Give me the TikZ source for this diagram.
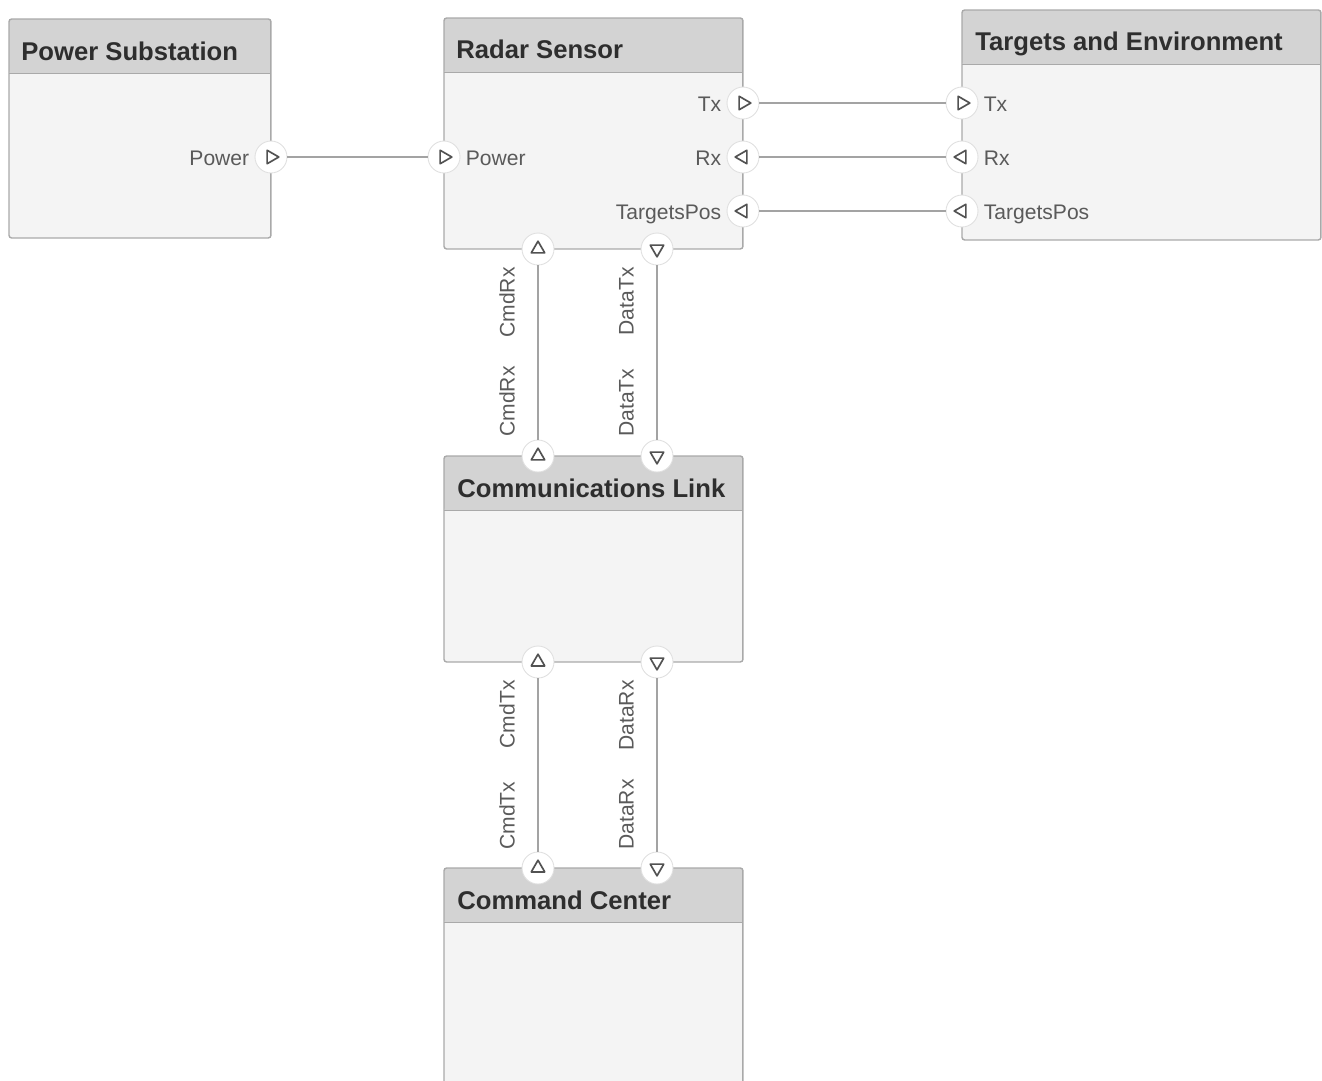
\documentclass[tikz,border=0pt]{standalone}
\usepackage{fontspec}
\setmainfont{Liberation Sans}
\usetikzlibrary{positioning}
\definecolor{boxfill}{HTML}{F4F4F4}
\definecolor{headfill}{HTML}{D3D3D3}
\definecolor{boxline}{HTML}{A9A9A9}
\definecolor{wireline}{HTML}{A3A3A3}
\definecolor{labeltext}{HTML}{5A5A5A}
\definecolor{titletext}{HTML}{2E2E2E}

\begin{document}
\begin{tikzpicture}[x=0.02cm, y=-0.02cm,
  block/.style = {draw=boxline, fill=boxfill, line width=0.8pt, rounded corners=1.5pt,
    anchor=north west, inner sep=0pt, outer sep=0pt,
    path picture={\fill[headfill] (path picture bounding box.north west) rectangle ([yshift=-1.09cm]path picture bounding box.north east);
      \draw[boxline, line width=1pt] ([yshift=-1.09cm]path picture bounding box.north west) -- ([yshift=-1.09cm]path picture bounding box.north east);}},
  title/.style = {font=\bfseries\fontsize{14.6}{17}\selectfont, text=titletext, anchor=base west, inner sep=0pt},
  port/.style = {circle, fill=white, draw=black!12, line width=0.5pt, minimum size=0.64cm, inner sep=0pt,
    path picture={\draw[tri] ([shift={(#1:7.8)}]path picture bounding box.center)
      -- ([shift={(#1+120:7.8)}]path picture bounding box.center)
      -- ([shift={(#1+240:7.8)}]path picture bounding box.center) -- cycle;}},
  tri/.style = {draw=black!68, line width=0.95pt, line join=round},
  wire/.style = {draw=wireline, line width=0.8pt},
  plabel/.style = {font=\fontsize{12}{14}\selectfont, text=labeltext, inner sep=0pt, text height=2.2ex, text depth=0.4ex},
  vlabel/.style = {plabel, text height=1.9ex, text depth=0.5ex, rotate=90}]
  \useasboundingbox (0,0) rectangle (1322,1080);

  % blocks
  \node[block, minimum width=5.24cm, minimum height=4.38cm] (psub) at (9,19) {};
  \node[block, minimum width=5.98cm, minimum height=4.62cm] (radar) at (444,18) {};
  \node[block, minimum width=7.18cm, minimum height=4.6cm] (tenv) at (962,10) {};
  \node[block, minimum width=5.98cm, minimum height=4.12cm] (comm) at (444,456) {};
  \node[block, minimum width=5.98cm, minimum height=4.6cm] (cmd) at (444,868) {};

  \node[title] (psub-t) at ([shift={(12,41)}]psub.north west) {Power Substation};
  \node[title] (radar-t) at ([shift={(12,40)}]radar.north west) {Radar Sensor};
  \node[title] (tenv-t) at ([shift={(13,40)}]tenv.north west) {Targets and Environment};
  \node[title] (comm-t) at ([shift={(13,41)}]comm.north west) {Communications Link};
  \node[title] (cmd-t) at ([shift={(13,41)}]cmd.north west) {Command Center};

  % ports
  \node[port=0] (psub-pw) at (271,157) {};
  \node[port=0] (radar-pw) at (444,157) {};
  \node[port=0] (radar-tx) at (743,103) {};
  \node[port=180] (radar-rx) at (743,157) {};
  \node[port=180] (radar-tp) at (743,211) {};
  \node[port=270] (radar-cmdrx) at (538,249) {};
  \node[port=90] (radar-datatx) at (657,249) {};
  \node[port=0] (tenv-tx) at (962,103) {};
  \node[port=180] (tenv-rx) at (962,157) {};
  \node[port=180] (tenv-tp) at (962,211) {};
  \node[port=270] (comm-cmdrx) at (538,456) {};
  \node[port=90] (comm-datatx) at (657,456) {};
  \node[port=270] (comm-cmdtx) at (538,662) {};
  \node[port=90] (comm-datarx) at (657,662) {};
  \node[port=270] (cmd-cmdtx) at (538,868) {};
  \node[port=90] (cmd-datarx) at (657,868) {};

  % port names
  \node[plabel, left=0.1cm of psub-pw] (psub-pw-l) {Power};
  \node[plabel, right=0.1cm of radar-pw] (radar-pw-l) {Power};
  \node[plabel, left=0.1cm of radar-tx] (radar-tx-l) {Tx};
  \node[plabel, left=0.1cm of radar-rx] (radar-rx-l) {Rx};
  \node[plabel, left=0.1cm of radar-tp] (radar-tp-l) {TargetsPos};
  \node[plabel, right=0.1cm of tenv-tx] (tenv-tx-l) {Tx};
  \node[plabel, right=0.1cm of tenv-rx] (tenv-rx-l) {Rx};
  \node[plabel, right=0.1cm of tenv-tp] (tenv-tp-l) {TargetsPos};

  % connections
  \draw[wire] (psub-pw) -- (radar-pw);
  \draw[wire] (radar-tx) -- (tenv-tx);
  \draw[wire] (radar-rx) -- (tenv-rx);
  \draw[wire] (radar-tp) -- (tenv-tp);
  \draw[wire] (radar-cmdrx) -- (comm-cmdrx);
  \draw[wire] (radar-datatx) -- (comm-datatx);
  \draw[wire] (comm-cmdtx) -- (cmd-cmdtx);
  \draw[wire] (comm-datarx) -- (cmd-datarx);

  \node[vlabel, anchor=east] (cmdrx-a) at (508,267) {CmdRx};
  \node[vlabel, anchor=west] (cmdrx-b) at (508,437) {CmdRx};
  \node[vlabel, anchor=east] (datatx-a) at (627,267) {DataTx};
  \node[vlabel, anchor=west] (datatx-b) at (627,437) {DataTx};
  \node[vlabel, anchor=east] (cmdtx-a) at (508,680) {CmdTx};
  \node[vlabel, anchor=west] (cmdtx-b) at (508,850) {CmdTx};
  \node[vlabel, anchor=east] (datarx-a) at (627,680) {DataRx};
  \node[vlabel, anchor=west] (datarx-b) at (627,850) {DataRx};
\end{tikzpicture}
\end{document}
